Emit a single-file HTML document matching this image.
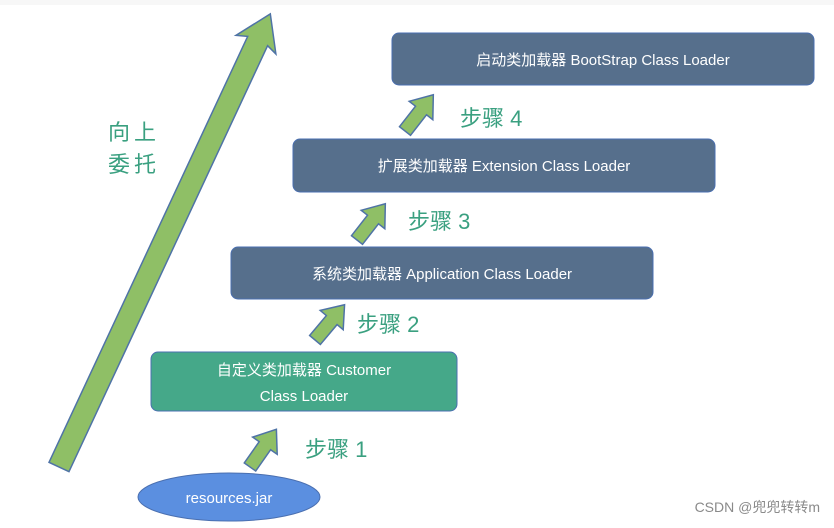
<!DOCTYPE html>
<html><head><meta charset="utf-8"><style>
html,body{margin:0;padding:0;background:#fff;}
body{width:834px;height:528px;overflow:hidden;}
svg{display:block;}
text{font-family:"Liberation Sans","Noto Sans CJK SC",sans-serif;}
</style></head><body>
<svg width="834" height="528" viewBox="0 0 834 528" xmlns="http://www.w3.org/2000/svg">
<rect x="0" y="0" width="834" height="528" fill="#fff"/>
<rect x="0" y="0" width="834" height="5" fill="#f7f7f7"/>
<!-- big arrow -->
<g transform="translate(59,467) rotate(-65)">
<polygon points="0,-11 470,-11 466,-22 500,0 466,22 470,11 0,11" fill="#8fbf66" stroke="#4f73a6" stroke-width="1.5"/>
</g>
<text x="108" y="140" font-size="22" fill="#3aa080" letter-spacing="4">向上</text>
<text x="108" y="172" font-size="22" fill="#3aa080" letter-spacing="4">委托</text>
<!-- boxes -->
<rect x="392" y="33" width="422" height="52" rx="7" fill="#566f8c" stroke="#4a6fb0" stroke-width="1"/>
<text x="603" y="65" font-size="15" fill="#fff" text-anchor="middle">启动类加载器 BootStrap Class Loader</text>
<rect x="293" y="139" width="422" height="53" rx="7" fill="#566f8c" stroke="#4a6fb0" stroke-width="1"/>
<text x="504" y="171" font-size="15" fill="#fff" text-anchor="middle">扩展类加载器 Extension Class Loader</text>
<rect x="231" y="247" width="422" height="52" rx="7" fill="#566f8c" stroke="#4a6fb0" stroke-width="1"/>
<text x="442" y="279" font-size="15" fill="#fff" text-anchor="middle">系统类加载器 Application Class Loader</text>
<rect x="151" y="352" width="306" height="59" rx="7" fill="#45a889" stroke="#4a6fb0" stroke-width="1"/>
<text x="304" y="375" font-size="15" fill="#fff" text-anchor="middle">自定义类加载器 Customer</text>
<text x="304" y="401" font-size="15" fill="#fff" text-anchor="middle">Class Loader</text>
<ellipse cx="229" cy="497" rx="91" ry="24" fill="#5b8fe0" stroke="#4a6fb0" stroke-width="1"/>
<text x="229" y="503" font-size="15" fill="#fff" text-anchor="middle">resources.jar</text>
<!-- small arrows -->
<g fill="#8fbf66" stroke="#4f73a6" stroke-width="1.5">
<polygon transform="translate(250,467) rotate(-55)" points="0,-7 26,-7 26,-15 46,0 26,15 26,7 0,7"/>
<polygon transform="translate(315,340) rotate(-50)" points="0,-7 26,-7 26,-15 46,0 26,15 26,7 0,7"/>
<polygon transform="translate(357,240) rotate(-52)" points="0,-7 26,-7 26,-15 46,0 26,15 26,7 0,7"/>
<polygon transform="translate(405,131) rotate(-52)" points="0,-7 26,-7 26,-15 46,0 26,15 26,7 0,7"/>
</g>
<g font-size="22" fill="#3aa080">
<text x="305" y="457">步骤 1</text>
<text x="357" y="332">步骤 2</text>
<text x="408" y="229">步骤 3</text>
<text x="460" y="126">步骤 4</text>
</g>
<text x="820" y="512" font-size="14" fill="#8a8a8a" text-anchor="end">CSDN @兜兜转转m</text>
</svg>
</body></html>
